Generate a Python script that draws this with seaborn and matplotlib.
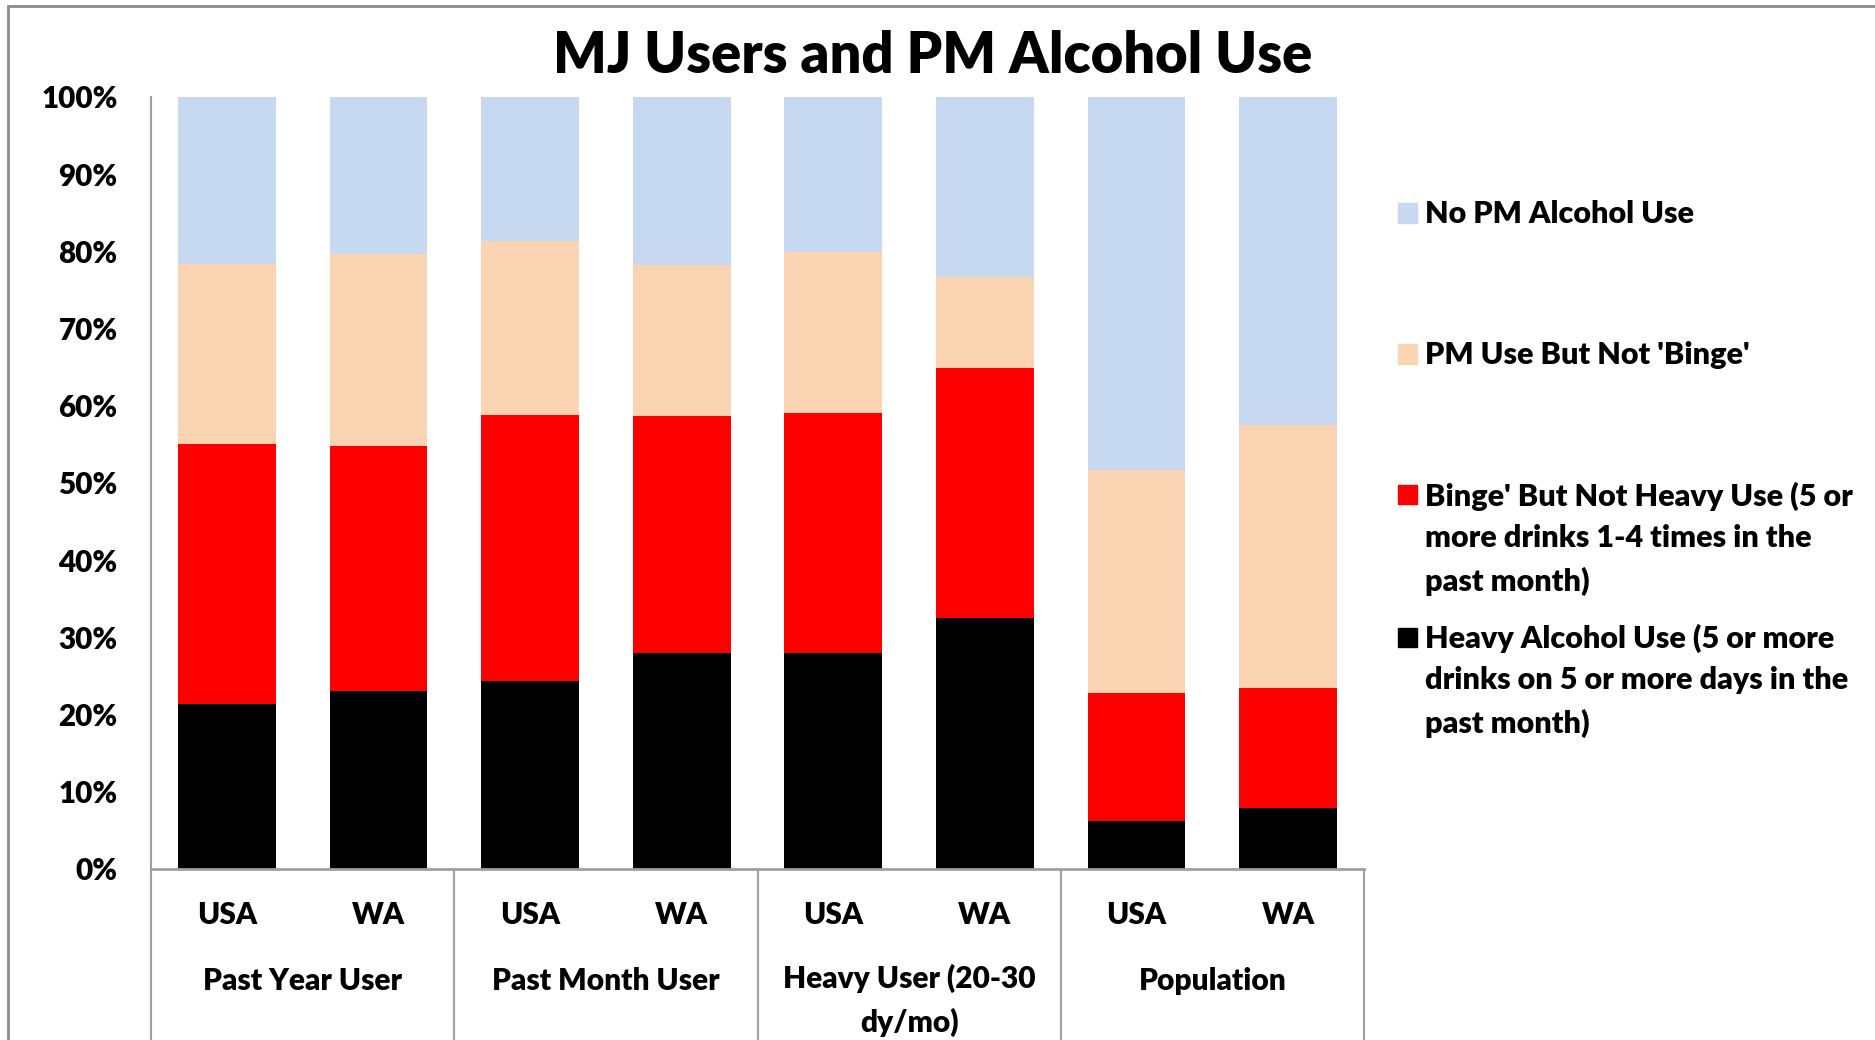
import matplotlib
matplotlib.use("Agg")
import matplotlib.pyplot as plt
from matplotlib.patches import Rectangle
import seaborn as sns
import pandas as pd
import numpy as np

# ---- data ----
groups = ["Past Year User", "Past Month User", "Heavy User (20-30\ndy/mo)", "Population"]
regions = ["USA", "WA"]
series_names = [
    "Heavy Alcohol Use (5 or more\ndrinks on 5 or more days in the\npast month)",
    "Binge' But Not Heavy Use (5 or\nmore drinks 1-4 times in the\npast month)",
    "PM Use But Not 'Binge'",
    "No PM Alcohol Use",
]
heavy = [21.4, 23.1, 24.3, 28.0, 28.0, 32.5, 6.2, 7.9]
binge = [33.6, 31.7, 34.5, 30.7, 31.1, 32.4, 16.6, 15.6]
pm_not_binge = [23.4, 24.9, 22.5, 19.5, 20.8, 11.8, 28.9, 34.0]
no_pm = [21.6, 20.3, 18.7, 21.8, 20.1, 23.3, 48.3, 42.5]
colors = ["#000000", "#FF0000", "#FBD4B4", "#C6D9F0"]

sns.set_theme(style="white")
plt.rcParams["font.family"] = ["Lato", "DejaVu Sans"]
plt.rcParams["text.color"] = "black"
plt.rcParams["xtick.color"] = "black"
plt.rcParams["ytick.color"] = "black"
plt.rcParams["axes.labelcolor"] = "black"
W = "heavy"

bar_ids = [f"{g}|{r}" for g in groups for r in regions]
layers = [heavy, binge, pm_not_binge, no_pm]
cum = np.cumsum(np.array(layers), axis=0)

fig = plt.figure(figsize=(18.75, 10.4), dpi=100)
ax = fig.add_axes([151/1875, 1-869/1040, (1364-151)/1875, (869-97)/1040])

# draw from top layer down so lower segments overlay
for i in range(len(layers) - 1, -1, -1):
    df = pd.DataFrame({"bar": bar_ids, "cum": cum[i]})
    sns.barplot(data=df, x="bar", y="cum", order=bar_ids, color=colors[i],
                saturation=1, width=0.645, errorbar=None, linewidth=0, ax=ax)

ax.set_ylim(0, 100)
ax.set_xlim(-0.5, len(bar_ids) - 0.5)
ax.set_yticks(np.arange(0, 101, 10))
ax.set_yticklabels([f"{v}%" for v in range(0, 101, 10)], fontsize=21.3, fontweight=W,
                   color="black")
ax.tick_params(axis="y", length=0, pad=24)
ax.set_xticks([])
ax.set_xlabel("")
ax.set_ylabel("")
for s in ["top", "right"]:
    ax.spines[s].set_visible(False)
ax.spines["left"].set_color("#A0A0A0")
ax.spines["left"].set_linewidth(1.5)
ax.spines["bottom"].set_color("#A0A0A0")
ax.spines["bottom"].set_linewidth(2)

# multi-level category labels
trans = ax.get_xaxis_transform()
for i, bid in enumerate(bar_ids):
    ax.text(i, -0.0596, bid.split("|")[1], transform=trans, ha="center", va="center",
            fontsize=21.5, fontweight=W, color="black")
for gi, g in enumerate(groups):
    if "\n" in g:
        ax.text(2*gi + 0.5, -0.145 + 0.022, g, transform=trans, ha="center", va="top",
                fontsize=21.5, fontweight=W, linespacing=1.62, color="black")
    else:
        ax.text(2*gi + 0.5, -0.145, g, transform=trans, ha="center", va="center",
                fontsize=21.5, fontweight=W, color="black")
for k in range(len(groups) + 1):
    ax.plot([2*k - 0.5, 2*k - 0.5], [0, -0.3], transform=trans, color="#A0A0A0",
            lw=1.5, clip_on=False)

# legend (manual)
leg_y = [213, 354, 495, 637]
order = [3, 2, 1, 0]
for yy, idx in zip(leg_y, order):
    fig.patches.append(Rectangle((1398/1875, 1 - (yy + 9.5)/1040), 19/1875, 19/1040,
                                 transform=fig.transFigure, color=colors[idx]))
    fig.text(1425/1875, 1 - (yy - 13)/1040, series_names[idx], ha="left", va="top",
             fontsize=22, fontweight=W, linespacing=1.58, color="black")

fig.suptitle("MJ Users and PM Alcohol Use", x=933/1875, y=1 - 56/1040, va="center",
             fontsize=40.3, fontweight=W, color="black")

# chart-area border
fig.patches.append(Rectangle((8/1875, -0.05), 1.1, 1 - 6/1040 + 0.05, transform=fig.transFigure,
                             fill=False, edgecolor="#8C8C8C", lw=2))

fig.savefig("out.png", dpi=100)
